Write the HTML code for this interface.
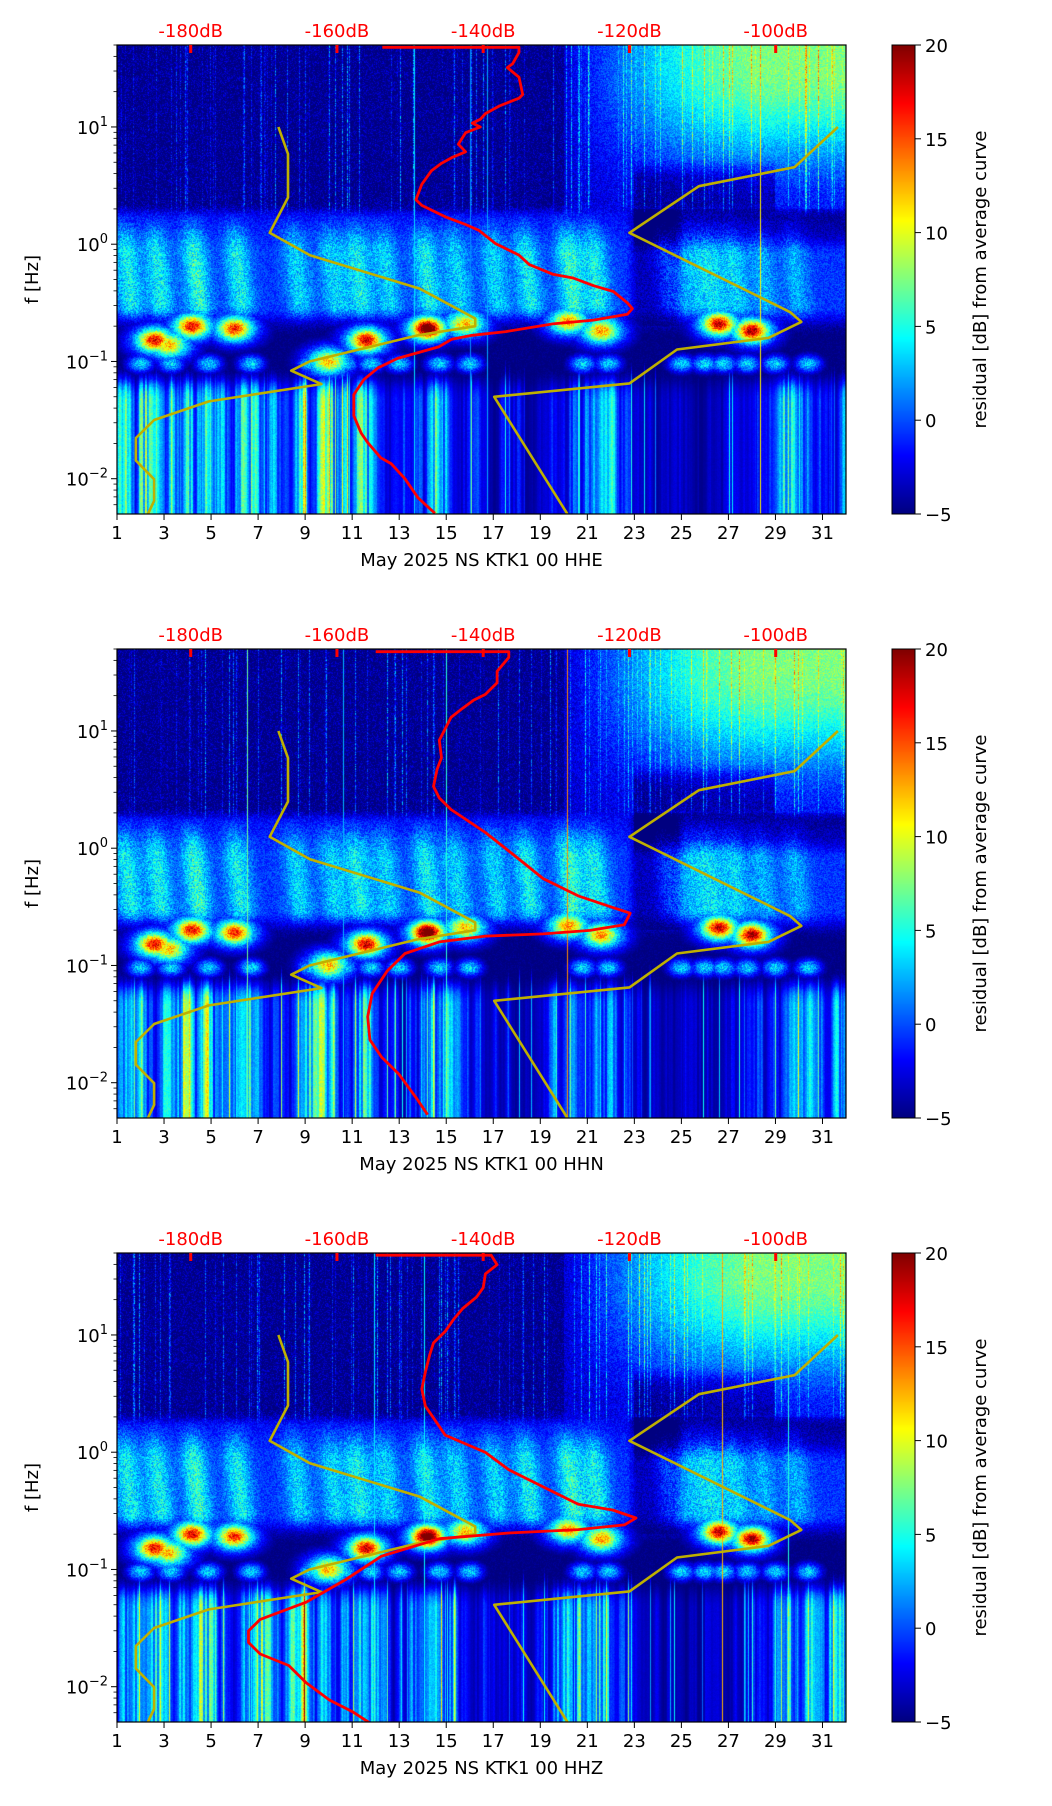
<!DOCTYPE html>
<html><head><meta charset="utf-8">
<style>
html,body{margin:0;padding:0;background:#fff;}
#root{position:relative;width:1052px;height:1806px;overflow:hidden;font-family:"DejaVu Sans","Liberation Sans",sans-serif;}
canvas{position:absolute;}
svg{position:absolute;left:0;top:0;font-family:"DejaVu Sans","Liberation Sans",sans-serif;}
</style></head>
<body>
<div id="root">
<canvas id="c0" width="729" height="469" style="left:117px;top:45px"></canvas>
<canvas id="c1" width="729" height="469" style="left:117px;top:649px"></canvas>
<canvas id="c2" width="729" height="469" style="left:117px;top:1253px"></canvas>
<canvas id="cb0" width="23" height="469" style="left:892px;top:45px"></canvas>
<canvas id="cb1" width="23" height="469" style="left:892px;top:649px"></canvas>
<canvas id="cb2" width="23" height="469" style="left:892px;top:1253px"></canvas>
<svg id="ov" width="1052" height="1806"></svg>
</div>
<script>
// ---- data ----
const panelTitles = ["May 2025 NS KTK1 00 HHE","May 2025 NS KTK1 00 HHN","May 2025 NS KTK1 00 HHZ"];
const dayTicks = [1,3,5,7,9,11,13,15,17,19,21,23,25,27,29,31];
const dbTicks = [-180,-160,-140,-120,-100];
const cbTicks = [-5,0,5,10,15,20];
const yDecades = [-2,-1,0,1];
// Peterson NLNM / NHNM (period, A, B)
const nlnmT = [0.1,0.17,0.4,0.8,1.24,2.4,4.3,5,6,10,12,15.6,21.9,31.6,45,70,101,154,200];
const nlnmA = [-162.36,-166.7,-170,-166.4,-168.6,-159.98,-141.1,-71.36,-97.26,-132.18,-205.27,-37.65,-114.37,-160.58,-187.5,-216.47,-185,-168.34,-168.34];
const nlnmB = [5.64,0,-8.3,28.9,52.48,29.81,0,-99.77,-66.49,-31.57,36.16,-104.33,-47.1,-16.28,0,15.7,0,-7.61,-7.61];
const nhnmT = [0.1,0.22,0.32,0.8,3.8,4.6,6.3,7.9,15.4,20,200];
const nhnmA = [-108.73,-150.34,-122.31,-116.85,-108.48,-74.66,0.66,-93.37,73.54,-151.52,-151.52];
const nhnmB = [-17.23,-80.5,-23.87,32.51,18.08,-32.95,-127.18,-22.42,-162.98,10.01,10.01];
// average PSD curves (dB, log10 f)
const psd1Db = [-153.8,-135.1,-135.1,-136.0,-136.7,-135.1,-134.6,-135.1,-137.8,-139.7,-140.4,-141.5,-140.4,-142.4,-143.4,-142.4,-144.3,-145.7,-147.1,-148.4,-149.2,-148.4,-145.2,-142.4,-140.6,-138.3,-135.1,-133.7,-130.5,-127.7,-124.9,-122.2,-120.3,-119.6,-120.3,-124.9,-130.5,-136.9,-141.5,-144.3,-146.1,-151.7,-154.4,-156.3,-157.7,-157.7,-156.7,-155.8,-154.0,-152.6,-150.7,-148.9,-146.6];
const psd1Lf = [1.679,1.679,1.636,1.538,1.506,1.424,1.277,1.245,1.179,1.114,1.065,1.033,1.0,0.951,0.853,0.788,0.739,0.690,0.625,0.511,0.380,0.331,0.234,0.168,0.119,0.005,-0.093,-0.174,-0.256,-0.288,-0.354,-0.403,-0.500,-0.549,-0.598,-0.647,-0.680,-0.745,-0.777,-0.810,-0.876,-0.974,-1.055,-1.153,-1.283,-1.463,-1.610,-1.692,-1.822,-1.871,-2.001,-2.164,-2.295];
const psd2Db = [-154.7,-136.5,-136.5,-138.1,-138.1,-139.7,-141.3,-142.8,-144.4,-145.2,-146.0,-145.7,-146.3,-146.8,-146.0,-144.4,-139.7,-135.7,-131.8,-127.0,-122.3,-119.9,-120.7,-125.4,-131.8,-139.7,-146.0,-150.7,-153.1,-155.2,-155.8,-155.5,-153.9,-151.5,-149.2,-147.6];
const psd2Lf = [1.676,1.676,1.627,1.509,1.411,1.312,1.263,1.194,1.116,1.018,0.920,0.772,0.674,0.527,0.428,0.330,0.134,-0.063,-0.259,-0.407,-0.505,-0.554,-0.652,-0.701,-0.731,-0.750,-0.799,-0.898,-1.045,-1.241,-1.438,-1.634,-1.782,-1.929,-2.125,-2.273];
const psd3Db = [-154.7,-138.9,-138.1,-139.7,-140.0,-140.9,-142.8,-144.1,-145.2,-146.8,-147.3,-147.9,-148.4,-147.9,-146.8,-145.2,-139.7,-136.5,-131.8,-127.0,-122.3,-119.1,-120.7,-127.0,-136.5,-146.0,-153.9,-158.7,-164.2,-170.5,-172.1,-172.1,-170.5,-166.6,-164.2,-161.0,-157.9,-155.5];
const psd3Lf = [1.68,1.68,1.599,1.521,1.403,1.324,1.226,1.128,1.030,0.932,0.833,0.686,0.539,0.392,0.293,0.146,-0.002,-0.149,-0.296,-0.444,-0.493,-0.561,-0.620,-0.660,-0.689,-0.738,-0.886,-1.082,-1.279,-1.426,-1.524,-1.623,-1.721,-1.819,-1.966,-2.114,-2.212,-2.310];
// spectrogram structure
const stormDays = [2.6,4.2,6.0,11.6,14.2,15.8,20.2,21.6,26.6,28.0,3.2,10.0];
const stormLf   = [-0.82,-0.70,-0.72,-0.82,-0.72,-0.68,-0.66,-0.74,-0.68,-0.74,-0.86,-1.0];
const stormPeak = [13,13,12,14,19,8,9,9,14,15,8,8];
const plumeDays = [1.6,2.9,4.5,6.3,8.8,10.3,11.4,12.6,14.3,15.6,17.2,18.6,20.4,21.5,24.6,25.6,26.4,27.4,28.6,30.0];
const plumeAmp  = [5,5,6,5,4,4,5,4,5,4,4,5,6,5,3,3,4,4,3,3];
const lowLevel  = [11,12,13,12,13,11,12,10,14,13,10,11,5,12,10,6,4,4,4,9,12,11,4,4,3,3,4,5,10,11,10,9];
const hfDays    = [1,20,22,24,26,28,32];
const hfLevel   = [0,0,0.3,0.6,0.85,1.0,1.0];

// ---- scales ----
const PL=117, PW=729, PH=469, TOPS=[45,649,1253];
const LFMAX=1.699, LFMIN=-2.301;
function xDay(d){return PL+(d-1)/31*PW;}
function yLf(lf,k){return TOPS[k]+(LFMAX-lf)/(LFMAX-LFMIN)*PH;}
function xDb(db){return 190.7+(db+180)*7.3125;}
function jet(t){t=Math.max(0,Math.min(1,t));
  const c=v=>Math.max(0,Math.min(1,v));
  return [c(1.5-Math.abs(4*t-3))*255,c(1.5-Math.abs(4*t-2))*255,c(1.5-Math.abs(4*t-1))*255];}
function hash(a,b){let h=(a*374761393+b*668265263)|0;h=(h^(h>>>13))*1274126177|0;h=h^(h>>>16);return (h>>>0)/4294967296;}
function interp(xs,ys,x){if(x<=xs[0])return ys[0];for(let i=1;i<xs.length;i++){if(x<=xs[i]){const t=(x-xs[i-1])/(xs[i]-xs[i-1]);return ys[i-1]+t*(ys[i]-ys[i-1]);}}return ys[ys.length-1];}
function ss(a,b,x){const t=Math.max(0,Math.min(1,(x-a)/(b-a)));return t*t*(3-2*t);}
const lowDays=[];for(let i=1;i<=32;i++)lowDays.push(i);

// ---- spectrogram ----
function drawSpec(k){
  const cv=document.getElementById('c'+k),ctx=cv.getContext('2d');
  const img=ctx.createImageData(PW,PH),D=img.data;
  const colS=[],colA=[],colB=[],colC=[];
  for(let x=0;x<PW;x++){colS.push(hash(x*7+k,911));colA.push(hash(x*3+k,57));
    colB.push(hash(Math.floor(x/2)+k*77,33));
    const c0=hash(Math.floor(x/6)+k*91,19),c1=hash(Math.floor(x/6)+1+k*91,19),f=(x%6)/6;
    colC.push(c0*(1-f)+c1*f);}
  for(let y=0;y<PH;y++){
    const lf=LFMAX-(y+0.5)/PH*(LFMAX-LFMIN);
    for(let x=0;x<PW;x++){
      const d=1+(x+0.5)/PW*31;
      const n=hash(x+k*1000,y);
      let hr=interp(hfDays,hfLevel,d);
      let lfFac=ss(0.25,1.5,lf);
      let vh=-5.8+3.4*n*n;
      if(hr>0){const dip=(d>23&&d<29)?2.5*ss(0.75,0.55,lf):0;
        vh=Math.max(vh,-4.5+hr*(1.5+9*lfFac)+3*n-dip);}
      if(colS[x]>0.86) vh+= (colA[x]*6+1)*(0.4+0.6*n);
      let vm=-3.4+2.6*n;
      let env=ss(0.35,-0.1,lf)*ss(-0.75,-0.5,lf);
      for(let i=0;i<plumeDays.length;i++){
        const dc=plumeDays[i]-(lf+0.5)*0.5;
        const g=Math.exp(-Math.pow((d-dc)/0.55,2));
        vm+=plumeAmp[i]*g*env*(0.7+0.6*n);
      }
      vm+=1.5*env;
      if(d>22.6&&d<25.2&&lf<0.3&&lf>-0.7) vm-=3*ss(22.6,23.2,d)*ss(25.2,24.6,d);
      if(d>23&&lf>-0.1&&lf<0.3) vm-=2.5*ss(-0.1,0.1,lf);
      let ll=interp(lowDays,lowLevel,d);
      let stripe=ll*(0.3+0.85*colC[x])*(0.55+0.65*colB[x]);
      let vl=-5.5+stripe*(0.9+0.2*n)*ss(-0.95,-1.35,lf);
      if(colS[x]>0.93) vl+=colA[x]*9;
      let wH=ss(0.22,0.36,lf);
      let vu=wH*vh+(1-wH)*vm;
      const wL=ss(-0.95,-1.25,lf);
      const vlow=wL*vl+(1-wL)*(-5.8+1.6*n);
      const wM=ss(-0.8,-0.55,lf);
      let v=wM*vu+(1-wM)*vlow;
      for(let i=0;i<stormDays.length;i++){
        const dd=(d-stormDays[i]),dl=(lf-stormLf[i]);
        const core=Math.exp(-dd*dd/0.35-dl*dl/0.007);
        const halo=Math.exp(-dd*dd/1.6-dl*dl/0.025);
        v=Math.max(v,-6+stormPeak[i]*core+11*halo*(0.7+0.5*n));
      }
      if(lf<-0.85&&lf>-1.25){const e=Math.exp(-Math.pow((lf+1.02)/0.08,2));
        for(let i=0;i<plumeDays.length;i++){if(plumeDays[i]>17&&plumeDays[i]<20)continue;
          v=Math.max(v,-6+10*e*Math.exp(-Math.pow((d-plumeDays[i]-0.4)/0.6,2))*(0.7+0.5*n));}}
      if(colS[x]>0.995) v=Math.max(v,colA[x]*14);
      const c=jet((v+5)/25),o=(y*PW+x)*4;
      D[o]=c[0];D[o+1]=c[1];D[o+2]=c[2];D[o+3]=255;
    }
  }
  ctx.putImageData(img,0,0);
  const cb=document.getElementById('cb'+k).getContext('2d');
  for(let y=0;y<PH;y++){const c=jet(1-(y+0.5)/PH);cb.fillStyle='rgb('+c.map(Math.round).join(',')+')';cb.fillRect(0,y,23,1);}
}
[0,1,2].forEach(drawSpec);

// ---- overlay ----
const NS='http://www.w3.org/2000/svg',ov=document.getElementById('ov');
function mk(tag,attrs,parent){const e=document.createElementNS(NS,tag);for(const a in attrs)e.setAttribute(a,attrs[a]);(parent||ov).appendChild(e);return e;}
function modelCurve(T,A,B){const pts=[];for(let i=0;i<T.length-1;i++){const ps=[T[i],T[i+1]];ps.forEach(t=>{pts.push([A[i]+B[i]*Math.log10(t),-Math.log10(t)]);});}return pts;}
const psdDb=[psd1Db,psd2Db,psd3Db],psdLf=[psd1Lf,psd2Lf,psd3Lf];
const FS=18;
for(let k=0;k<3;k++){
  const T=TOPS[k],g=mk('g',{});
  
  
  const cp=mk('clipPath',{id:'clip'+k},g);mk('rect',{x:PL,y:T,width:PW,height:PH},cp);
  const lines=mk('g',{'clip-path':'url(#clip'+k+')'},g);
  [[nlnmT,nlnmA,nlnmB,'nlnm'],[nhnmT,nhnmA,nhnmB,'nhnm']].forEach(m=>{
    const pts=modelCurve(m[0],m[1],m[2]).map(p=>xDb(p[0]).toFixed(1)+','+yLf(p[1],k).toFixed(1)).join(' ');
    const pl=mk('polyline',{points:pts,fill:'none',stroke:'#bfb000','stroke-width':2.6,'stroke-linejoin':'round'},lines);
    
    
  });
  const pp=psdDb[k].map((db,i)=>xDb(db).toFixed(1)+','+yLf(psdLf[k][i],k).toFixed(1)).join(' ');
  const red=mk('polyline',{points:pp,fill:'none',stroke:'#ff0000','stroke-width':2.8,'stroke-linejoin':'round'},lines);
  
  
  const fr=mk('rect',{x:PL,y:T,width:PW,height:PH,fill:'none',stroke:'#000','stroke-width':1.2},g);
  
  
  dayTicks.forEach(dv=>{const x=xDay(dv);
    mk('line',{x1:x,y1:T+PH,x2:x,y2:T+PH+6,stroke:'#000','stroke-width':1},g);
    const t=mk('text',{x:x,y:T+PH+25,'font-size':FS,'text-anchor':'middle',fill:'#000'},g);t.textContent=dv;
    
    });
  const xl=mk('text',{x:PL+PW/2,y:T+PH+52,'font-size':FS,'text-anchor':'middle',fill:'#000'},g);xl.textContent=panelTitles[k];
  
  
  for(let e=-3;e<=1;e++){for(let m=1;m<10;m++){const lf=e+Math.log10(m);if(lf<LFMIN||lf>LFMAX)continue;const y=yLf(lf,k);
    mk('line',{x1:PL,y1:y,x2:PL-(m===1?6:3.5),y2:y,stroke:'#000','stroke-width':m===1?1:0.8},g);}}
  yDecades.forEach(e=>{const y=yLf(e,k);
    const t=mk('text',{x:PL-9,y:y+7,'font-size':FS,'text-anchor':'end',fill:'#000'},g);
    
    
    const a=mk('tspan',{},t);a.textContent='10';const b=mk('tspan',{dy:-8,'font-size':13},t);b.textContent=(e<0?'\u2212':'')+Math.abs(e);});
  const yl=mk('text',{x:38,y:T+PH/2,'font-size':FS,'text-anchor':'middle',transform:'rotate(-90 38 '+(T+PH/2)+')',fill:'#000'},g);yl.textContent='f [Hz]';
  
  
  dbTicks.forEach(db=>{const x=xDb(db);
    mk('rect',{x:x-1.5,y:T,width:3,height:8,fill:'#ff0000'},g);
    const t=mk('text',{x:x,y:T-8,'font-size':FS,'text-anchor':'middle',fill:'#ff0000'},g);t.textContent=db+'dB';
    
    });
  const cbr=mk('rect',{x:892,y:T,width:23,height:PH,fill:'none',stroke:'#000','stroke-width':1},g);
  
  
  cbTicks.forEach(v=>{const y=T+PH-(v+5)/25*PH;
    mk('line',{x1:915,y1:y,x2:921,y2:y,stroke:'#000','stroke-width':1},g);
    const t=mk('text',{x:925,y:y+7,'font-size':FS,fill:'#000'},g);t.textContent=(v<0?'\u2212':'')+Math.abs(v);
    
    });
  const cl=mk('text',{x:986,y:T+PH/2,'font-size':FS,'text-anchor':'middle',transform:'rotate(-90 986 '+(T+PH/2)+')',fill:'#000'},g);cl.textContent='residual [dB] from average curve';
  
  
}
</script>
</body></html>
